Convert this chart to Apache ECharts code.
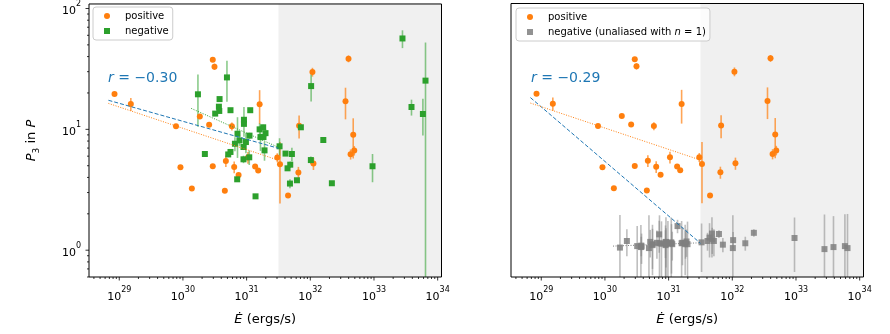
<!DOCTYPE html>
<html>
<head>
<meta charset="utf-8">
<script src="https://cdn.jsdelivr.net/npm/echarts@6/dist/echarts.min.js"></script>
<style>
html, body { margin: 0; padding: 0; background: #fff; }
#chart { width: 890px; height: 334px; }
</style>
</head>
<body>
<div id="chart"></div>
<script>
// positive drifters: spin-down luminosity (ergs/s), P3 (in P), error
const posEdot = [8.43e28, 1.52e29, 7.78e29, 9.14e29, 1.38e30, 1.84e30, 2.58e30, 2.94e30, 3.13e30, 2.94e30,
  4.55e30, 4.72e30, 5.87e30, 6.38e30, 7.48e30, 1.05e31, 1.36e31, 1.52e31, 1.60e31, 3.03e31,
  3.34e31, 4.47e31, 6.50e31, 6.67e31, 1.08e32, 1.12e32, 3.57e32, 3.98e32, 4.29e32, 4.72e32, 4.90e32];
const posP3 = [19.6, 16.2, 10.6, 4.85, 3.24, 12.8, 10.9, 37.7, 33.0, 4.95,
  3.11, 5.47, 10.6, 4.88, 4.19, 5.84, 4.92, 4.56, 16.1, 5.84,
  5.14, 2.83, 4.39, 10.7, 29.8, 5.21, 17.1, 38.4, 6.22, 9.04, 6.67];
const posErr = [0, 2.0, 0, 0, 0, 0, 0, 0, 2.0, 0,
  0, 0.6, 0.8, 0.55, 0, 0.65, 0, 0, 5.0, 0.5,
  2.7, 0, 0.5, 2.3, 2.5, 0.6, 5.0, 2.5, 0.6, 3.3, 0.6];

// negative drifters
const negEdot = [1.72e30, 2.21e30, 3.21e30, 3.67e30, 3.76e30, 3.72e30, 4.91e30, 5.58e30, 5.14e30, 5.58e30,
  6.55e30, 7.19e30, 7.11e30, 7.73e30, 9.08e30, 9.08e30, 8.93e30, 8.93e30, 9.75e30, 1.11e31,
  1.14e31, 1.10e31, 1.38e31, 1.60e31, 1.65e31, 1.82e31, 1.84e31, 1.98e31, 1.91e31,
  3.29e31, 4.08e31, 5.14e31, 4.39e31, 4.84e31, 4.79e31, 6.17e31, 7.11e31, 1.03e32, 1.02e32,
  1.60e32, 2.18e32, 9.48e32, 2.80e33, 3.88e33, 5.86e33, 6.44e33];
const negP3 = [19.5, 6.25, 13.5, 15.4, 17.8, 14.2, 26.9, 14.4, 6.2, 6.5,
  7.6, 9.2, 3.86, 8.1, 12.0, 11.1, 5.65, 7.14, 7.85, 8.87,
  14.4, 5.87, 2.79, 10.0, 8.63, 10.4, 8.63, 9.3, 6.7,
  7.24, 6.3, 6.25, 4.76, 5.1, 3.56, 3.79, 10.4, 22.8, 5.57,
  8.16, 3.58, 4.95, 56.5, 15.3, 13.4, 25.3];
const negErr = [9, 0.3, 0.5, 0.5, 0.5, 0.5, 10, 0.3, 0.3, 0.3,
  1.0, 3.4, 0.1, 0.8, 3.3, 0.5, 0.4, 0.4, 1.5, 0.5,
  0.5, 0.8, 0, 1.2, 2.0, 0.5, 0.5, 0.7, 1.2,
  1.2, 0.2, 0.8, 0.2, 0.3, 0.3, 0.15, 0.3, 5.8, 0.4,
  0.2, 0.1, 1.3, 9.5, 2.3, 4.5, 27];

// negative drifters, unaliased with n = 1 (same Edot as negEdot)
const unaliasP3 = [1.05, 1.19, 1.08, 1.06, 1.07, 1.09, 1.04, 1.12, 1.17, 1.10,
  1.15, 1.14, 1.35, 1.13, 1.17, 1.12, 1.10, 1.16, 1.14, 1.14,
  1.12, 1.16, 1.58, 1.14, 1.15, 1.12, 1.15, 1.12, 1.18,
  1.16, 1.19, 1.19, 1.27, 1.23, 1.37, 1.36, 1.11, 1.21, 1.04,
  1.14, 1.39, 1.26, 1.02, 1.06, 1.08, 1.04];
const unaliasErr = [0.9, 0.3, 0.5, 0.55, 0.3, 0.2, 0.9, 0.5, 0.3, 0.4,
  0.3, 0.8, 0.4, 0.6, 0.7, 0.4, 0.5, 0.3, 0.6, 0.5,
  0.3, 0.7, 0.2, 0.6, 0.4, 0.5, 0.3, 0.6, 0.3,
  0.5, 0.2, 0.3, 0.4, 0.3, 0.5, 0.1, 0.15, 0.2, 0.9,
  0.15, 0.1, 0.6, 0.95, 0.85, 0.9, 0.95];

// fit lines (end points)
const fitEdot = [6.76e28, 3.16e31];
const fitAllLeft = [17.4, 6.97];
const fitAllRight = [18.2, 1.14];
const fitPos = [16.4, 5.55];
const fitNegEdot = [1.35e30, 3.16e31];
const fitNeg = [14.9, 7.1];
const fitUnaliasEdot = [1.34e30, 3.16e31];
const fitUnalias = [1.08, 1.15];

const rLeft = '−0.30';
const rRight = '−0.29';

// shaded region starts here
const shadeFrom = 3.16e31;

// tick exponents
const xTickExps = [29, 30, 31, 32, 33, 34];
const yTickExps = [0, 1, 2];

const X_MIN = Math.pow(10, 28.525), X_MAX = Math.pow(10, 34.06);
const Y_MIN = 0.6, Y_MAX = 109;

const FONT = 'DejaVu Sans';
const C_BLUE = '#1f77b4', C_ORANGE = '#ff7f0e', C_GREEN = '#2ca02c', C_GRAY = '#7f7f7f';

const chart = echarts.init(document.getElementById('chart'));

function zip(xs, ys) { return xs.map((x, i) => [x, ys[i]]); }

function powLabel(v) {
  const e = Math.log10(v);
  const r = Math.round(e);
  if (Math.abs(e - r) > 1e-6) return '';
  return '{b|10}{s|' + r + '}';
}
const labelRich = {
  b: { fontSize: 11, fontFamily: FONT, color: '#000', lineHeight: 17, verticalAlign: 'bottom' },
  s: { fontSize: 8, fontFamily: FONT, color: '#000', lineHeight: 10, verticalAlign: 'top' }
};

// minor / major tick values
const xMajor = xTickExps.map(e => Math.pow(10, e));
const xMinor = [];
for (let e = 28; e <= 34; e++) for (let m = 2; m <= 9; m++) xMinor.push(m * Math.pow(10, e));
const yMajor = yTickExps.map(e => Math.pow(10, e));
const yMinor = [];
for (let e = -1; e <= 2; e++) for (let m = 2; m <= 9; m++) yMinor.push(m * Math.pow(10, e));

function tickSeries(idx, dir, values, len) {
  return {
    type: 'custom', xAxisIndex: idx, yAxisIndex: idx, silent: true, z: 6, clip: false,
    data: values.map(v => dir === 'x' ? [v, Y_MIN] : [X_MIN, v]),
    renderItem: function (params, api) {
      const cs = params.coordSys;
      if (dir === 'x') {
        const x = api.coord([api.value(0), Y_MIN])[0];
        if (x < cs.x - 0.5 || x > cs.x + cs.width + 0.5) return null;
        const y0 = cs.y + cs.height;
        return { type: 'line', shape: { x1: x, y1: y0, x2: x, y2: y0 + len },
          style: { stroke: '#000', lineWidth: 0.8 } };
      }
      const y = api.coord([X_MIN, api.value(1)])[1];
      if (y < cs.y - 0.5 || y > cs.y + cs.height + 0.5) return null;
      return { type: 'line', shape: { x1: cs.x, y1: y, x2: cs.x - len, y2: y },
        style: { stroke: '#000', lineWidth: 0.8 } };
    }
  };
}

function errSeries(idx, xs, ys, es, color, opacity, z) {
  return {
    type: 'custom', xAxisIndex: idx, yAxisIndex: idx, silent: true, z: z,
    data: xs.map((x, i) => [x, ys[i], es[i]]),
    renderItem: function (params, api) {
      const e = api.value(2);
      if (!e) return null;
      const cs = params.coordSys;
      const x = api.value(0), y = api.value(1);
      const lo = Math.max(y - e, Y_MIN * 0.1);
      const p1 = api.coord([x, y + e]);
      const p2 = api.coord([x, lo]);
      const top = Math.max(cs.y, p1[1]);
      const bot = Math.min(cs.y + cs.height, p2[1]);
      return { type: 'line', shape: { x1: p1[0], y1: top, x2: p1[0], y2: bot },
        style: { stroke: color, opacity: opacity, lineWidth: 1.6 } };
    }
  };
}

function shadeSeries(idx) {
  return {
    type: 'custom', xAxisIndex: idx, yAxisIndex: idx, silent: true, z: 0,
    data: [[shadeFrom, Y_MIN]],
    renderItem: function (params, api) {
      const cs = params.coordSys;
      const x = api.coord([api.value(0), Y_MIN])[0];
      return { type: 'rect', shape: { x: x, y: cs.y, width: cs.x + cs.width - x, height: cs.height },
        style: { fill: '#f0f0f0' } };
    }
  };
}

function fitLine(idx, xs, ys, color, type) {
  return {
    type: 'line', xAxisIndex: idx, yAxisIndex: idx, silent: true, z: 4,
    data: zip(xs, ys), symbol: 'none',
    lineStyle: { color: color, width: 1, type: type }
  };
}

function xAxis(idx) {
  return {
    type: 'log', logBase: 10, gridIndex: idx, min: X_MIN, max: X_MAX,
    name: '{i|Ė} (ergs/s)', nameLocation: 'middle', nameGap: 36,
    nameTextStyle: { fontSize: 13, fontFamily: FONT, color: '#000',
      rich: { i: { fontSize: 13, fontFamily: FONT, fontStyle: 'italic', color: '#000' } } },
    axisLine: { show: false }, axisTick: { show: false }, splitLine: { show: false },
    axisLabel: { formatter: powLabel, rich: labelRich, margin: 9, showMinLabel: false, showMaxLabel: false }
  };
}

function legendBox(names, left, top, extra) {
  return Object.assign({
    data: names, orient: 'vertical', left: left, top: top,
    itemWidth: 6, itemHeight: 6, itemGap: 3, padding: [3, 4, 3, 11],
    backgroundColor: 'rgba(255,255,255,0.8)', borderColor: '#cccccc', borderWidth: 1, borderRadius: 3,
    textStyle: { fontSize: 10, fontFamily: FONT, color: '#000', lineHeight: 12, padding: [0, 0, 0, 10] }
  }, extra || {});
}

const gridTop = 3.5, gridH = 273.5, gridW = 352.5;

const option = {
  backgroundColor: '#fff',
  animation: false,
  grid: [
    { left: 89, top: gridTop, width: gridW, height: gridH, show: true, z: 8,
      borderColor: '#000', borderWidth: 1, backgroundColor: 'transparent' },
    { left: 511, top: gridTop, width: gridW, height: gridH, show: true, z: 8,
      borderColor: '#000', borderWidth: 1, backgroundColor: 'transparent' }
  ],
  xAxis: [xAxis(0), xAxis(1)],
  yAxis: [
    {
      type: 'log', logBase: 10, gridIndex: 0, min: Y_MIN, max: Y_MAX,
      name: '{i|P}{sub|3} in {i|P}', nameLocation: 'middle', nameGap: 48, nameRotate: 90,
      nameTextStyle: { fontSize: 13, fontFamily: FONT, color: '#000',
        rich: {
          i: { fontSize: 13, fontFamily: FONT, fontStyle: 'italic', color: '#000', lineHeight: 18, verticalAlign: 'middle' },
          sub: { fontSize: 9, fontFamily: FONT, color: '#000', lineHeight: 10, verticalAlign: 'bottom' }
        } },
      axisLine: { show: false }, axisTick: { show: false }, splitLine: { show: false },
      axisLabel: { formatter: powLabel, rich: labelRich, margin: 8, showMinLabel: false, showMaxLabel: false }
    },
    {
      type: 'log', logBase: 10, gridIndex: 1, min: Y_MIN, max: Y_MAX,
      axisLine: { show: false }, axisTick: { show: false }, splitLine: { show: false },
      axisLabel: { show: false }
    }
  ],
  legend: [
    legendBox(['positive', 'negative'], 93, 7),
    legendBox(['positive', 'negative (unaliased with n = 1)'], 516, 8, {
      formatter: function (name) { return name.replace('n = 1', '{i|n} = 1'); },
      textStyle: { fontSize: 10, fontFamily: FONT, color: '#000', lineHeight: 12, padding: [0, 0, 0, 10],
        rich: { i: { fontSize: 10, fontFamily: FONT, fontStyle: 'italic', color: '#000' } } }
    })
  ],
  graphic: [
    { type: 'text', left: 108, top: 71, z: 10,
      style: { text: '{i|r} = ' + rLeft, fill: C_BLUE, font: '14px ' + FONT,
        rich: { i: { fontStyle: 'italic', fontSize: 14, fontFamily: FONT, fill: C_BLUE } } } },
    { type: 'text', left: 531, top: 71, z: 10,
      style: { text: '{i|r} = ' + rRight, fill: C_BLUE, font: '14px ' + FONT,
        rich: { i: { fontStyle: 'italic', fontSize: 14, fontFamily: FONT, fill: C_BLUE } } } }
  ],
  series: [
    shadeSeries(0), shadeSeries(1),
    tickSeries(0, 'x', xMajor, 3.5), tickSeries(0, 'x', xMinor, 2),
    tickSeries(1, 'x', xMajor, 3.5), tickSeries(1, 'x', xMinor, 2),
    tickSeries(0, 'y', yMajor, 3.5), tickSeries(0, 'y', yMinor, 2),

    // left panel
    errSeries(0, posEdot, posP3, posErr, C_ORANGE, 0.7, 2),
    { name: 'positive', type: 'scatter', xAxisIndex: 0, yAxisIndex: 0, z: 3,
      data: zip(posEdot, posP3), symbol: 'circle', symbolSize: 6,
      itemStyle: { color: C_ORANGE, opacity: 1 } },
    errSeries(0, negEdot, negP3, negErr, C_GREEN, 0.55, 3),
    { name: 'negative', type: 'scatter', xAxisIndex: 0, yAxisIndex: 0, z: 3,
      data: zip(negEdot, negP3), symbol: 'rect', symbolSize: 6,
      itemStyle: { color: C_GREEN, opacity: 1 } },
    fitLine(0, fitEdot, fitAllLeft, C_BLUE, [4, 2]),
    fitLine(0, fitEdot, fitPos, C_ORANGE, [1, 1.5]),
    fitLine(0, fitNegEdot, fitNeg, C_GREEN, [1, 1.5]),

    // right panel
    errSeries(1, posEdot, posP3, posErr, C_ORANGE, 0.7, 2),
    { name: 'positive', type: 'scatter', xAxisIndex: 1, yAxisIndex: 1, z: 3,
      data: zip(posEdot, posP3), symbol: 'circle', symbolSize: 6,
      itemStyle: { color: C_ORANGE, opacity: 1 } },
    errSeries(1, negEdot, unaliasP3, unaliasErr, C_GRAY, 0.5, 2),
    { name: 'negative (unaliased with n = 1)', type: 'scatter', xAxisIndex: 1, yAxisIndex: 1, z: 3,
      data: zip(negEdot, unaliasP3), symbol: 'rect', symbolSize: 6,
      itemStyle: { color: C_GRAY, opacity: 0.85 } },
    fitLine(1, fitEdot, fitAllRight, C_BLUE, [4, 2]),
    fitLine(1, fitEdot, fitPos, C_ORANGE, [1, 1.5]),
    fitLine(1, fitUnaliasEdot, fitUnalias, C_GRAY, [1, 1.5])
  ]
};

chart.setOption(option);
</script>
</body>
</html>
